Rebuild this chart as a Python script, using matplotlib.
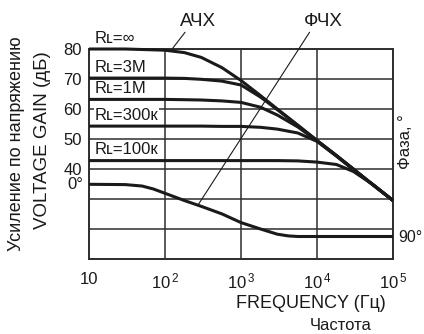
"""
Op-amp open-loop gain / phase vs frequency (АЧХ / ФЧХ)
"""

import matplotlib
matplotlib.use("Agg")
import matplotlib.pyplot as plt
import matplotlib.transforms as mtransforms

# Data
FREQ = [10, 30, 100, 180, 300, 560, 1000, 1800, 3000, 5600,
        10000, 18000, 30000, 56000, 100000]
GAIN_INF = [80, 80, 79.6, 78.8, 77.2, 73.8, 69.5, 64.5, 60.0, 54.6,
            49.5, 44.5, 40.0, 34.5, 29.5]
GAIN_3M = [70.3, 70.3, 70.3, 70.2, 69.9, 69.3, 68.0, 64.0, 59.8, 54.5,
           49.5, 44.5, 40.0, 34.5, 29.5]
GAIN_1M = [63.2, 63.2, 63.2, 63.1, 63.0, 62.7, 62.2, 60.6, 58.0, 54.0,
           49.4, 44.4, 40.0, 34.5, 29.5]
GAIN_300K = [54.3, 54.3, 54.3, 54.3, 54.3, 54.2, 54.2, 53.9, 53.3, 52.0,
             49.2, 44.3, 39.8, 34.5, 29.5]
GAIN_100K = [42.8, 42.8, 42.8, 42.8, 42.8, 42.8, 42.8, 42.8, 42.8, 42.7,
             42.3, 41.5, 39.2, 34.6, 29.5]
LOAD_LABELS = ["Rʟ=∞", "Rʟ=3M", "Rʟ=1M", "Rʟ=300к", "Rʟ=100к"]

PHASE_FREQ = [10, 30, 50, 70, 100, 180, 300, 560, 1000, 1800, 3000,
              4200, 5600, 10000, 100000]
PHASE = [0, 0.5, 3, 8, 15.5, 28, 38, 51, 66, 77, 86, 89, 90, 90, 90]

GAIN_TICKS = [40, 50, 60, 70, 80]
GAIN_GRID = [10, 20, 30, 40, 50, 60, 70, 80]
FREQ_TICKS = [10, 100, 1000, 10000, 100000]
FREQ_TICK_LABELS = ["10", r"$\mathregular{10^{\,2}}$", r"$\mathregular{10^{\,3}}$",
                    r"$\mathregular{10^{\,4}}$", r"$\mathregular{10^{\,5}}$"]

INK = "#1a1a1a"
GRID = "#2e2e2e"
FONT = ["Liberation Sans", "DejaVu Sans"]

plt.rcParams["font.family"] = FONT
plt.rcParams["mathtext.fontset"] = "custom"
plt.rcParams["mathtext.rm"] = "Liberation Sans"
plt.rcParams["text.color"] = INK


def main():
    fig = plt.figure(figsize=(4.24, 3.34), dpi=100)
    fig.patch.set_facecolor("white")
    ax = fig.add_axes([89 / 424, 1 - 259 / 334, 304 / 424, 210 / 334])

    ax.set_xscale("log")
    ax.set_xlim(10, 100000)
    ax.set_ylim(10, 80)

    # grid
    for g in GAIN_GRID:
        ax.axhline(g, color=GRID, lw=1.1, zorder=1)
    for f in FREQ_TICKS:
        ax.axvline(f, color=GRID, lw=1.1, zorder=1)
    for s in ax.spines.values():
        s.set_color(GRID)
        s.set_linewidth(1.4)

    # gain curves
    curves = [GAIN_INF, GAIN_3M, GAIN_1M, GAIN_300K, GAIN_100K]
    for gain, lab in zip(curves, LOAD_LABELS):
        ax.plot(FREQ, gain, color=INK, lw=2.2, solid_capstyle="butt",
                zorder=3, clip_on=False)
        ax.text(0.02, gain[0] + 3.6, lab, transform=mtransforms.blended_transform_factory(
                ax.transAxes, ax.transData), ha="left", va="center", fontsize=12,
                bbox=dict(facecolor="white", edgecolor="none", pad=0.5), zorder=4)

    ax.set_xticks(FREQ_TICKS)
    ax.set_xticklabels(FREQ_TICK_LABELS)
    ax.minorticks_off()
    ax.set_yticks(GAIN_TICKS)
    ax.tick_params(axis="both", length=0, labelsize=12, colors=INK)
    ax.tick_params(axis="x", pad=9)
    ax.tick_params(axis="y", pad=5)

    # phase on a twin axis, 0° near 35 dB, 90° near 17 dB
    ax2 = ax.twinx()
    ax2.set_ylim(128.8, -233.3)
    ax2.plot(PHASE_FREQ, PHASE, color=INK, lw=2.2, zorder=3)
    ax2.set_yticks([90])
    ax2.set_yticklabels(["90°"])
    ax2.tick_params(axis="y", length=0, labelsize=11.5, pad=4, colors=INK)
    for s in ax2.spines.values():
        s.set_visible(False)
    ax2.text(-0.02, 0, "0°", transform=mtransforms.blended_transform_factory(
        ax2.transAxes, ax2.transData), ha="right", va="center", fontsize=12)

    # pointer labels
    ax.annotate("АЧХ", xy=(124, 80), xytext=(198 / 424, 1 - 21 / 334),
                textcoords="figure fraction", ha="center", va="center", fontsize=13.5,
                arrowprops=dict(arrowstyle="-", color=INK, lw=0.8,
                                relpos=(0.2, 0.0), shrinkA=0, shrinkB=0),
                annotation_clip=False)
    ax2.annotate("ФЧХ", xy=(272, 35.7), xytext=(323 / 424, 1 - 21 / 334),
                 textcoords="figure fraction", ha="center", va="center", fontsize=13.5,
                 arrowprops=dict(arrowstyle="-", color=INK, lw=0.8,
                                 relpos=(0.2, 0.0), shrinkA=0, shrinkB=0),
                 annotation_clip=False)

    # axis titles
    fig.text(17 / 424, 1 - 144 / 334, "Усиление по напряжению", rotation=90,
             ha="center", va="center", fontsize=13)
    fig.text(43 / 424, 1 - 140 / 334, "VOLTAGE GAIN (дБ)", rotation=90,
             ha="center", va="center", fontsize=13.5)
    fig.text(406 / 424, 1 - 142 / 334, "Фаза, °", rotation=90,
             ha="center", va="center", fontsize=12)
    fig.text(311 / 424, 1 - 303 / 334, "FREQUENCY (Гц)",
             ha="center", va="center", fontsize=13)
    fig.text(341 / 424, 1 - 325 / 334, "Частота",
             ha="center", va="center", fontsize=12)

    fig.savefig("out.png", dpi=100, facecolor="white")


if __name__ == "__main__":
    main()
